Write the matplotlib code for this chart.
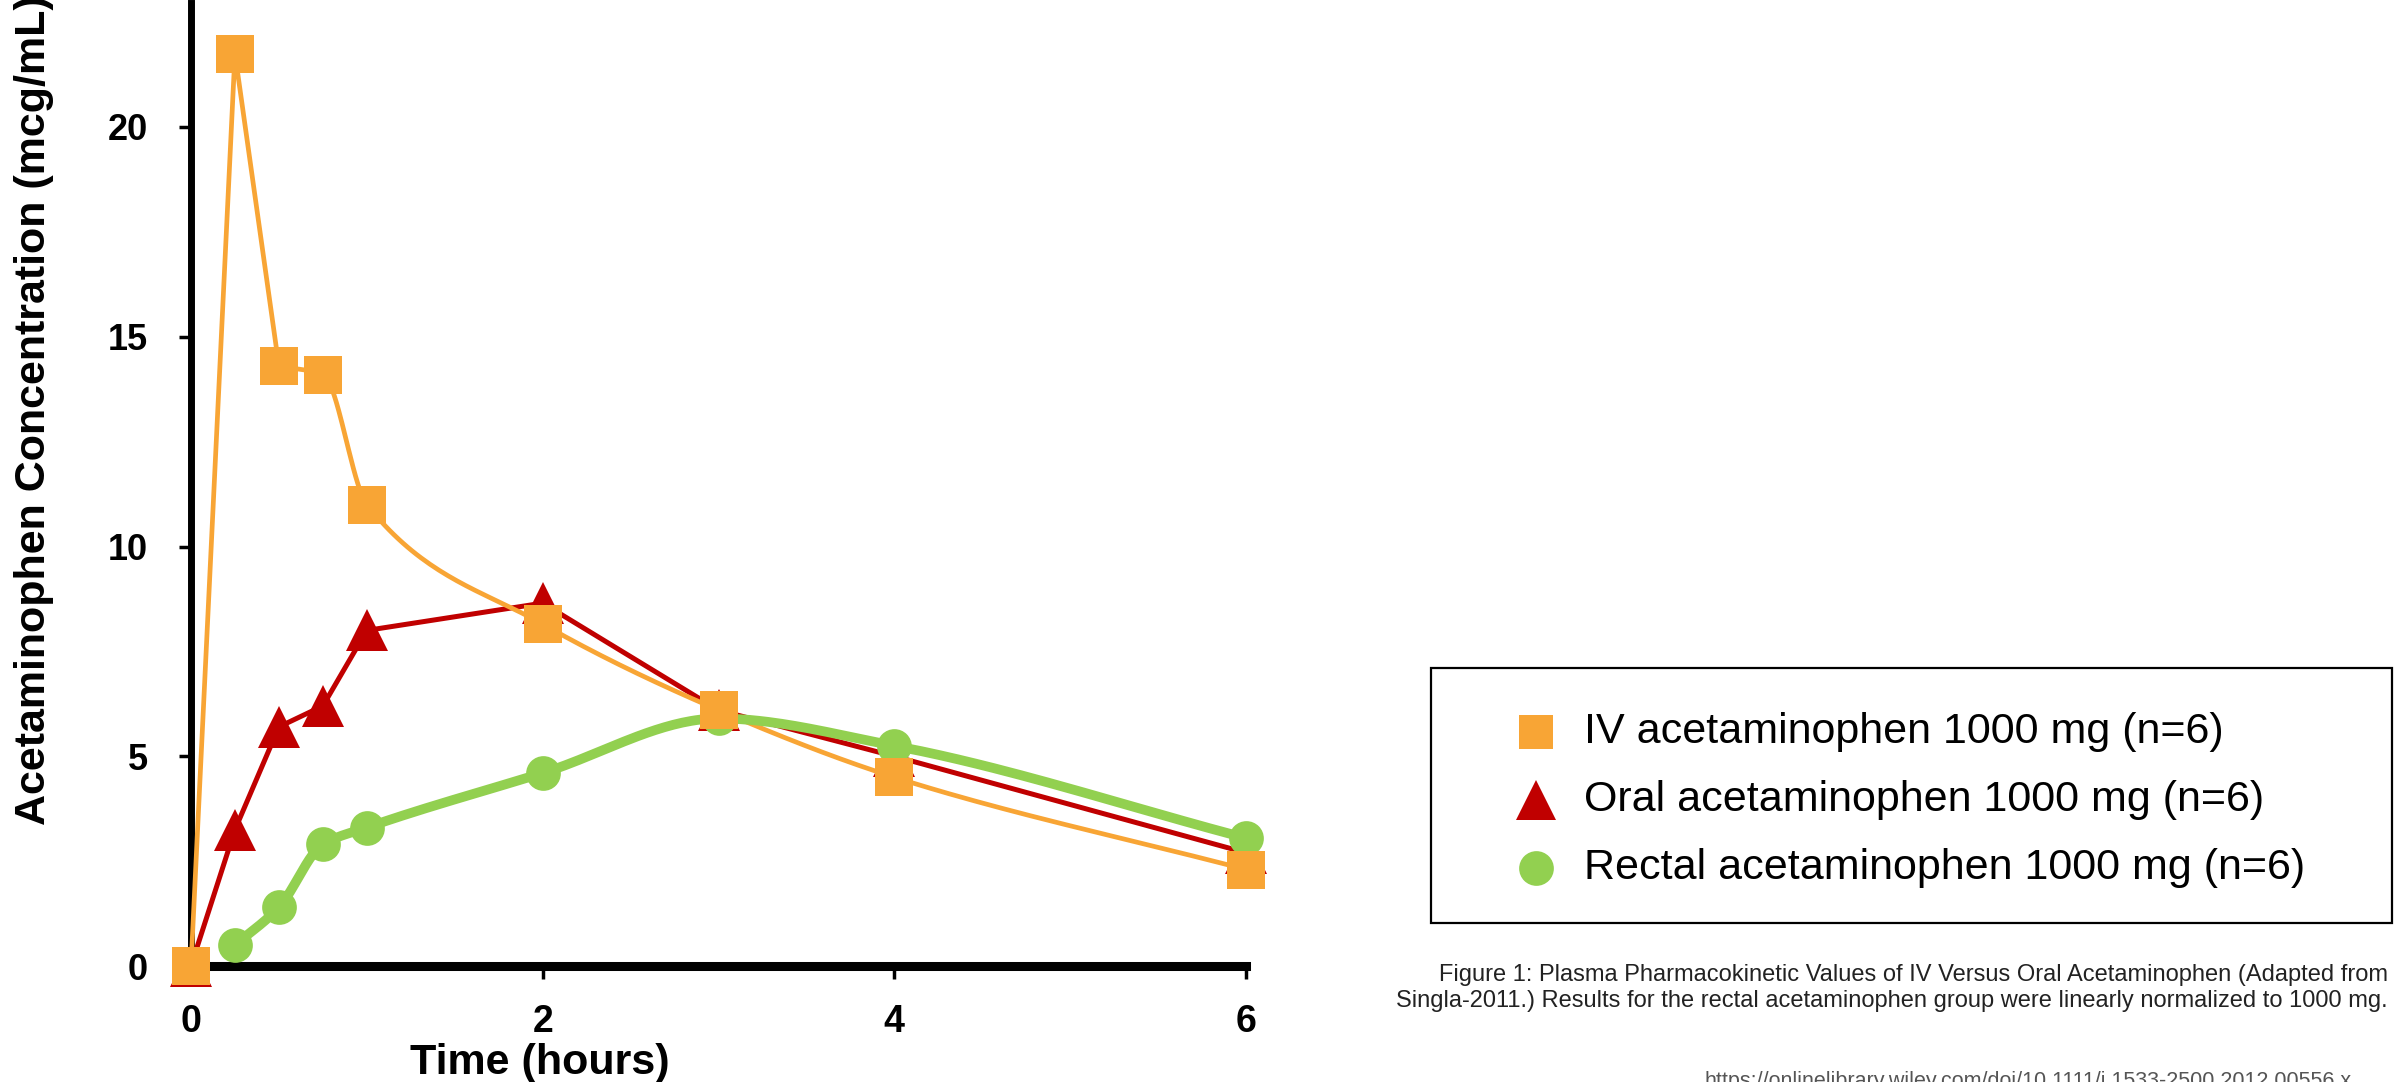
import numpy as np
import matplotlib
matplotlib.use('Agg')
import matplotlib.pyplot as plt
from matplotlib.lines import Line2D
from matplotlib.patches import Rectangle

plt.rcParams['font.family'] = ['Liberation Sans', 'DejaVu Sans']

# data (time in hours, concentration in mcg/mL)
iv_time = [0, 0.25, 0.5, 0.75, 1, 2, 3, 4, 6]
iv_conc = [0, 21.75, 14.3, 14.1, 11.0, 8.15, 6.1, 4.5, 2.3]

oral_time = [0, 0.25, 0.5, 0.75, 1, 2, 3, 4, 6]
oral_conc = [0, 3.25, 5.7, 6.2, 8.0, 8.65, 6.1, 5.0, 2.7]

rectal_time = [0.25, 0.5, 0.75, 1, 2, 3, 4, 6]
rectal_conc = [0.5, 1.4, 2.9, 3.3, 4.6, 5.9, 5.25, 3.05]

labels = ['IV acetaminophen 1000 mg (n=6)',
          'Oral acetaminophen 1000 mg (n=6)',
          'Rectal acetaminophen 1000 mg (n=6)']
x_ticks = [0, 2, 4, 6]
y_ticks = [0, 5, 10, 15, 20]

ORANGE = '#F8A535'
RED = '#C00000'
GREEN = '#92D050'

caption = ('Figure 1: Plasma Pharmacokinetic Values of IV Versus Oral Acetaminophen (Adapted from\n'
           'Singla-2011.) Results for the rectal acetaminophen group were linearly normalized to 1000 mg.')
url = 'https://onlinelibrary.wiley.com/doi/10.1111/j.1533-2500.2012.00556.x'


def smooth(x, y, n=40):
    # monotone cubic (pchip) through the points, for drawing the curve only
    x = np.asarray(x, float)
    y = np.asarray(y, float)
    h = np.diff(x)
    delta = np.diff(y) / h
    d = np.zeros_like(y)
    d[0], d[-1] = delta[0], delta[-1]
    for k in range(1, len(x) - 1):
        if delta[k - 1] * delta[k] > 0:
            w1 = 2 * h[k] + h[k - 1]
            w2 = h[k] + 2 * h[k - 1]
            d[k] = (w1 + w2) / (w1 / delta[k - 1] + w2 / delta[k])
    xs, ys = [], []
    for k in range(len(x) - 1):
        t = np.linspace(0, 1, n)
        h00 = 2 * t**3 - 3 * t**2 + 1
        h10 = t**3 - 2 * t**2 + t
        h01 = -2 * t**3 + 3 * t**2
        h11 = t**3 - t**2
        xs.append(x[k] + t * h[k])
        ys.append(h00 * y[k] + h10 * h[k] * d[k] + h01 * y[k + 1] + h11 * h[k] * d[k + 1])
    return np.concatenate(xs), np.concatenate(ys)


W, H = 2397, 1082
fig = plt.figure(figsize=(W / 100, H / 100), dpi=100)
fig.patch.set_facecolor('white')

# axes placed in pixel terms of the reference
x0, x6, y0, ytop = 191, 1246, 966, 3
ax = fig.add_axes([x0 / W, (H - y0) / H, (x6 - x0) / W, (y0 - ytop) / H])
ax.set_xlim(0, 6)
ax.set_ylim(0, (y0 - ytop) / 41.95)

# curves
ax.plot(oral_time, oral_conc, color=RED, lw=3.6, zorder=3, clip_on=False)
ax.plot(oral_time, oral_conc, ls='none', marker='^', ms=30, color=RED,
        markeredgewidth=0, zorder=3, clip_on=False)

# IV: straight through the spike, smooth afterwards
sx, sy = smooth(iv_time[2:], iv_conc[2:])
ax.plot(np.r_[iv_time[:2], sx], np.r_[iv_conc[:2], sy], color=ORANGE, lw=3.4,
        zorder=4, clip_on=False)
ax.plot(iv_time, iv_conc, ls='none', marker='s', ms=27, color=ORANGE,
        markeredgewidth=0, zorder=6, clip_on=False)

gx, gy = smooth(rectal_time, rectal_conc)
ax.plot(gx, gy, color=GREEN, lw=7, zorder=5, clip_on=False)
ax.plot(rectal_time, rectal_conc, ls='none', marker='o', ms=25, color=GREEN,
        markeredgewidth=0, zorder=5, clip_on=False)

# spines / ticks
for s in ['top', 'right']:
    ax.spines[s].set_visible(False)
ax.spines['left'].set_linewidth(5)
ax.spines['bottom'].set_linewidth(6.5)
ax.spines['bottom'].set_bounds(0, 6)
ax.set_xticks(x_ticks)
ax.set_yticks(y_ticks)
ax.set_xticklabels([str(v) for v in x_ticks], fontsize=27, fontweight='bold')
ax.set_yticklabels([str(v) for v in y_ticks], fontsize=26, fontweight='bold')
ax.tick_params(axis='y', direction='out', length=9, width=2.5, pad=22)
ax.tick_params(axis='x', direction='out', length=9, width=2.5, pad=18)

# axis titles (the y title runs off the top edge, as in the reference)
fig.text(34 / W, (H - 825) / H, 'Acetaminophen Concentration (mcg/mL)',
         rotation=90, ha='center', va='bottom', fontsize=31, fontweight='bold')
fig.text(540 / W, (H - 1043) / H, 'Time (hours)', ha='center', va='top',
         fontsize=31, fontweight='bold')

# legend box
bx0, bx1, by0, by1 = 1431, 2392, 668, 923
fig.patches.append(Rectangle((bx0 / W, (H - by1) / H), (bx1 - bx0) / W, (by1 - by0) / H,
                             transform=fig.transFigure, facecolor='white',
                             edgecolor='black', lw=1.6))
for lab, mk, col, yc, ms in zip(labels, ['s', '^', 'o'], [ORANGE, RED, GREEN],
                                [732, 800, 868], [25, 29, 25]):
    fig.lines.append(Line2D([1536 / W], [(H - yc) / H], transform=fig.transFigure,
                            marker=mk, ms=ms, color=col, markeredgewidth=0, ls='none'))
    fig.text(1584 / W, (H - yc) / H, lab, ha='left', va='center', fontsize=31)

# caption and source
fig.text(2388 / W, (H - 988) / H, caption, ha='right', va='center',
         multialignment='right', fontsize=17, color='#222222', linespacing=1.2)
fig.text(1705 / W, (H - 1071) / H, url, ha='left', va='top', fontsize=15.5, color='#555555')

fig.savefig('out.png', dpi=100, facecolor='white')
